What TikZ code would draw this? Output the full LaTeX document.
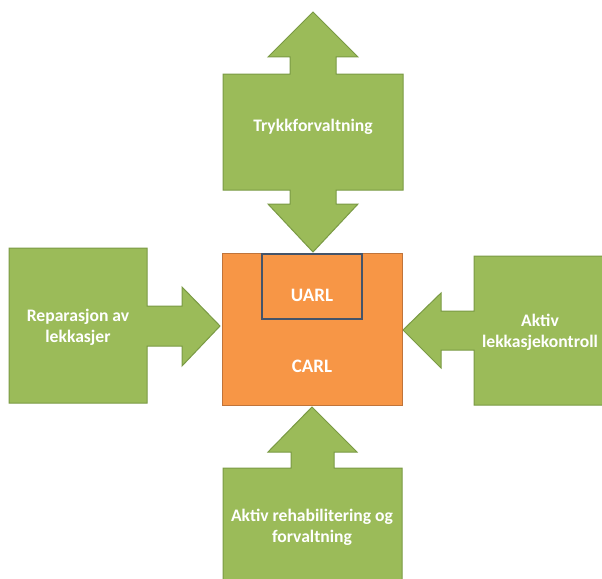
\documentclass[tikz,border=0pt]{standalone}
\usepackage{fontspec}
\setmainfont{Carlito}
\definecolor{leafgreen}{HTML}{9BBB59}
\definecolor{leafedge}{HTML}{7A9A44}
\definecolor{carlfill}{HTML}{F79646}
\definecolor{carledge}{HTML}{C0743A}
\definecolor{uarledge}{HTML}{44546A}
\begin{document}
\begin{tikzpicture}[x=1pt,y=-1pt,
  greenshape/.style={fill=leafgreen,draw=leafedge,line width=1pt,line join=miter},
  label/.style={text=white,font=\fontsize{17.6}{21}\selectfont\bfseries,align=center,inner sep=0pt},
  biglabel/.style={label,font=\fontsize{19}{22}\selectfont\bfseries}]
\useasboundingbox (0,0) rectangle (602,578);
\clip (0,0) rectangle (602,578);
\fill[white] (0,0) rectangle (602,578);

% pressure management: double arrow above the loss box
\draw[greenshape] (313,12) -- (358,57) -- (336,57) -- (336,74) -- (403,74) -- (403,190)
  -- (336,190) -- (336,204) -- (358,204) -- (313,252) -- (268,204) -- (290,204)
  -- (290,190) -- (223,190) -- (223,74) -- (290,74) -- (290,57) -- (268,57) -- cycle;
\node[label] (trykk) at (313,127) {Trykkforvaltning};

% repair of leaks: box with arrow pointing right
\draw[greenshape] (9,248) -- (147,248) -- (147,306) -- (182,306) -- (182,287) -- (220,326)
  -- (182,366) -- (182,346) -- (147,346) -- (147,403) -- (9,403) -- cycle;
\node[label] (repar) at (78,327) {Reparasjon av\\lekkasjer};

% active leakage control: box with arrow pointing left
\draw[greenshape] (612,256) -- (474,256) -- (474,311) -- (441,311) -- (441,293) -- (403,330)
  -- (441,368) -- (441,350) -- (474,350) -- (474,405) -- (612,405) -- cycle;
\node[label] (aktiv) at (540,332) {Aktiv\\lekkasjekontroll};

% rehabilitation: box with arrow pointing up
\draw[greenshape] (312,407) -- (357,452) -- (334,452) -- (334,468) -- (402,468) -- (402,600)
  -- (223,600) -- (223,468) -- (291,468) -- (291,452) -- (268,452) -- cycle;
\node[label] (rehab) at (312,527) {Aktiv rehabilitering og\\forvaltning};

% central loss box
\draw[fill=carlfill,draw=carledge,line width=1pt] (222,253) rectangle (402,405);
\draw[draw=uarledge,line width=1.3pt] (262,254) rectangle (362,319);
\node[biglabel] (uarl) at (312,295) {UARL};
\node[biglabel] (carl) at (312,366) {CARL};
\end{tikzpicture}
\end{document}
